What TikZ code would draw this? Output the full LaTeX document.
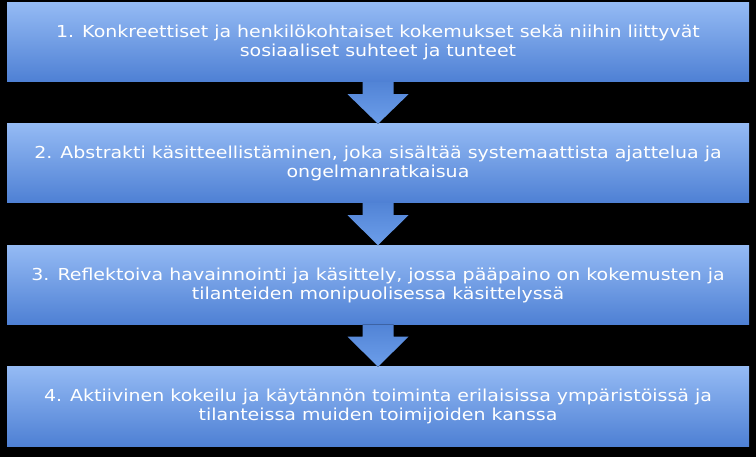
\documentclass[tikz,border=0pt]{standalone}
\usepackage{fontspec}
\setmainfont{DejaVu Sans}[FakeStretch=1.15]
\usetikzlibrary{shadows}
\definecolor{boxtop}{RGB}{148,186,244}
\definecolor{boxbot}{RGB}{78,128,212}
\definecolor{arrtop}{RGB}{82,132,214}
\definecolor{arrbot}{RGB}{108,158,234}
\begin{document}
\begin{tikzpicture}[x=1pt,y=-1pt,
  stagebox/.style={rectangle, minimum width=742pt, minimum height=79pt,
    top color=boxtop, bottom color=boxbot, draw=none, inner sep=0pt,
    text=white, align=center, font=\fontsize{16.5}{19}\selectfont},
  ]
\useasboundingbox[fill=black] (0,0) rectangle (756,457);
\node[stagebox] (s1) at (378,42.5) {1. Konkreettiset ja henkilökohtaiset kokemukset sekä niihin liittyvät\\sosiaaliset suhteet ja tunteet};
\node[stagebox] (s2) at (378,163.5) {2. Abstrakti käsitteellistäminen, joka sisältää systemaattista ajattelua ja\\ongelmanratkaisua};
\node[stagebox] (s3) at (378,285) {3. Reflektoiva havainnointi ja käsittely, jossa pääpaino on kokemusten ja\\tilanteiden monipuolisessa käsittelyssä};
\node[stagebox] (s4) at (378,406.5) {4. Aktiivinen kokeilu ja käytännön toiminta erilaisissa ympäristöissä ja\\tilanteissa muiden toimijoiden kanssa};
\foreach \a/\b in {s1/s2,s2/s3,s3/s4}{
  \path (\a.south) coordinate (top-\a) (\b.north) coordinate (tip-\a);
  \fill[top color=arrtop, bottom color=arrbot]
    ([xshift=-15.5pt]top-\a) -- ([xshift=15.5pt]top-\a)
    -- ([xshift=15.5pt,yshift=-12pt]top-\a) -- ([xshift=30.5pt,yshift=-12pt]top-\a)
    -- (tip-\a) -- ([xshift=-30.5pt,yshift=-12pt]top-\a)
    -- ([xshift=-15.5pt,yshift=-12pt]top-\a) -- cycle;
}
\end{tikzpicture}
\end{document}
